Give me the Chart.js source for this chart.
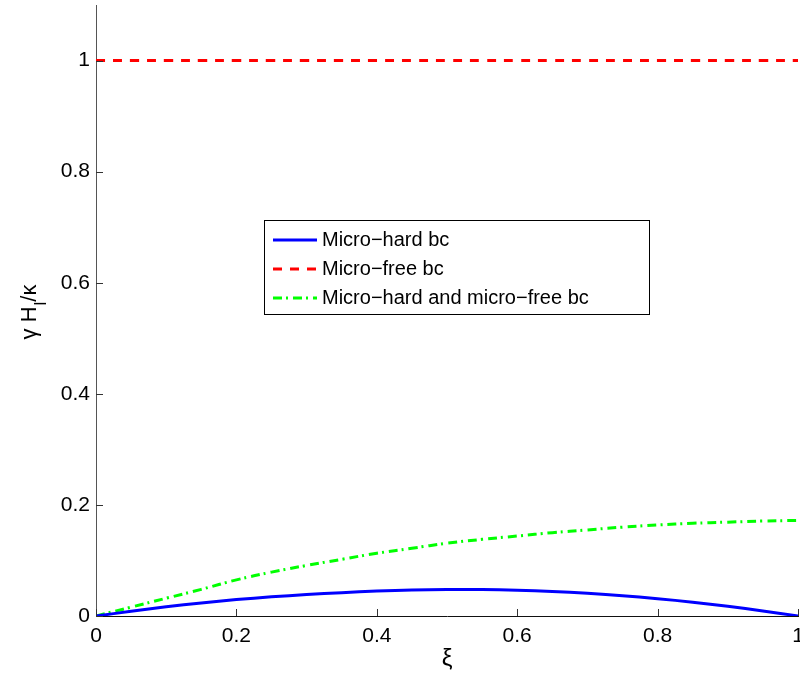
<!DOCTYPE html>
<html>
<head>
<meta charset="utf-8">
<script src="https://cdn.jsdelivr.net/npm/chart.js@4/dist/chart.umd.min.js"></script>
<style>
  html, body { margin: 0; padding: 0; background: #fff; }
  #wrap { width: 800px; height: 680px; }
</style>
</head>
<body>
<div id="wrap"><canvas id="grafico" width="800" height="680"></canvas></div>
<script>
// xi positions along the layer
const xi = [0, 0.05, 0.1, 0.15, 0.2, 0.25, 0.3, 0.35, 0.4, 0.45, 0.5,
            0.55, 0.6, 0.65, 0.7, 0.75, 0.8, 0.85, 0.9, 0.95, 1];

// gamma H_I / kappa for each boundary condition
const microHard = [0, 0.0085, 0.0165, 0.0235, 0.0295, 0.0345, 0.0385, 0.0420, 0.0450, 0.0470, 0.0478,
                   0.0475, 0.0462, 0.0440, 0.0408, 0.0366, 0.0312, 0.0248, 0.0175, 0.0092, 0];
const microFree = [1, 1, 1, 1, 1, 1, 1, 1, 1, 1, 1,
                   1, 1, 1, 1, 1, 1, 1, 1, 1, 1];
const microBoth = [0, 0.016, 0.032, 0.048, 0.065, 0.079, 0.091, 0.102, 0.113, 0.122, 0.131,
                   0.138, 0.144, 0.150, 0.155, 0.160, 0.164, 0.167, 0.169, 0.171, 0.172];

const seriesNames = ["Micro\u2212hard bc", "Micro\u2212free bc", "Micro\u2212hard and micro\u2212free bc"];

const xTicks = [0, 0.2, 0.4, 0.6, 0.8, 1];
const yTicks = [0, 0.2, 0.4, 0.6, 0.8, 1];

const FONT = "'Liberation Sans', Arial, Helvetica, sans-serif";
const AXIS_COLOR = "#333";

function puntos(ys) {
    return xi.map((x, i) => ({ x: x, y: ys[i] }));
}

const estilos = [
    { color: "#0000ff", dash: [] },
    { color: "#ff0000", dash: [9, 8] },
    { color: "#00ff00", dash: [9, 4, 2, 5] }
];

// inward tick marks, axis titles and the boxed legend
const extras = {
    id: "extras",
    afterDatasetsDraw(chart) {
        const ctx = chart.ctx;
        const area = chart.chartArea;
        const sx = chart.scales.x;
        const sy = chart.scales.y;

        ctx.save();
        ctx.strokeStyle = AXIS_COLOR;
        ctx.lineWidth = 1;
        ctx.beginPath();
        xTicks.forEach(v => {
            const px = Math.round(sx.getPixelForValue(v)) + 0.5;
            ctx.moveTo(px, area.bottom);
            ctx.lineTo(px, area.bottom - 7);
        });
        yTicks.forEach(v => {
            const py = Math.round(sy.getPixelForValue(v)) + 0.5;
            ctx.moveTo(area.left, py);
            ctx.lineTo(area.left + 7, py);
        });
        ctx.stroke();

        // x title
        ctx.fillStyle = "#000";
        ctx.font = "24px " + FONT;
        ctx.textAlign = "center";
        ctx.textBaseline = "alphabetic";
        ctx.fillText("\u03be", (area.left + area.right) / 2, 666);

        // y title: gamma H_I / kappa, rotated
        ctx.translate(36, (area.top + area.bottom) / 2 + 2);
        ctx.rotate(-Math.PI / 2);
        ctx.textAlign = "left";
        ctx.font = "22px " + FONT;
        const p1 = "\u03b3 H";
        const w1 = ctx.measureText(p1).width;
        ctx.font = "17px " + FONT;
        const p2 = "l";
        const w2 = ctx.measureText(p2).width;
        ctx.font = "22px " + FONT;
        const p3 = "/\u03ba";
        const w3 = ctx.measureText(p3).width;
        let x0 = -(w1 + w2 + w3) / 2;
        ctx.fillText(p1, x0, 0);
        ctx.font = "17px " + FONT;
        ctx.fillText(p2, x0 + w1 + 1, 10);
        ctx.font = "22px " + FONT;
        ctx.fillText(p3, x0 + w1 + w2 + 1, 0);
        ctx.restore();

        // legend box
        ctx.save();
        const bx = 264.5, by = 220.5, bw = 385, bh = 94;
        ctx.fillStyle = "#fff";
        ctx.fillRect(bx, by, bw, bh);
        ctx.strokeStyle = "#000";
        ctx.lineWidth = 1;
        ctx.strokeRect(bx, by, bw, bh);
        ctx.font = "20px " + FONT;
        ctx.textAlign = "left";
        ctx.textBaseline = "middle";
        seriesNames.forEach((name, i) => {
            const cy = 240 + i * 29;
            ctx.strokeStyle = estilos[i].color;
            ctx.lineWidth = 3;
            ctx.setLineDash(estilos[i].dash);
            ctx.beginPath();
            ctx.moveTo(273, cy);
            ctx.lineTo(317, cy);
            ctx.stroke();
            ctx.setLineDash([]);
            ctx.fillStyle = "#000";
            ctx.fillText(name, 322, cy);
        });
        ctx.restore();
    }
};

const datos = [microHard, microFree, microBoth];

const ctx = document.getElementById("grafico").getContext("2d");
window.myChart = new Chart(ctx, {
    type: "line",
    data: {
        datasets: datos.map((ys, i) => ({
            label: seriesNames[i],
            data: puntos(ys),
            borderColor: estilos[i].color,
            borderDash: estilos[i].dash,
            borderWidth: 3,
            pointRadius: 0,
            tension: 0.4,
            fill: false
        }))
    },
    options: {
        responsive: false,
        animation: false,
        events: [],
        layout: { padding: { top: 5, right: 2, left: 0, bottom: 0 } },
        plugins: {
            legend: { display: false },
            tooltip: { enabled: false }
        },
        scales: {
            x: {
                type: "linear",
                min: 0,
                max: 1,
                afterBuildTicks: s => { s.ticks = xTicks.map(v => ({ value: v })); },
                afterFit: s => { s.height = 64; s.paddingLeft = 0; s.paddingRight = 0; },
                grid: { display: true, drawOnChartArea: false, drawTicks: false },
                border: { display: true, color: "#111", width: 1 },
                ticks: {
                    color: "#000",
                    padding: 8,
                    font: { family: FONT, size: 21 },
                    maxRotation: 0,
                    callback: v => String(v)
                }
            },
            y: {
                type: "linear",
                min: 0,
                max: 1.1,
                afterBuildTicks: s => { s.ticks = yTicks.map(v => ({ value: v })); },
                afterFit: s => { s.width = 96; s.paddingTop = 0; s.paddingBottom = 0; },
                grid: { display: true, drawOnChartArea: false, drawTicks: false },
                border: { display: true, color: "#555", width: 1 },
                ticks: {
                    color: "#000",
                    padding: 6,
                    font: { family: FONT, size: 21 },
                    callback: v => String(v)
                }
            }
        }
    },
    plugins: [extras]
});
</script>
</body>
</html>
